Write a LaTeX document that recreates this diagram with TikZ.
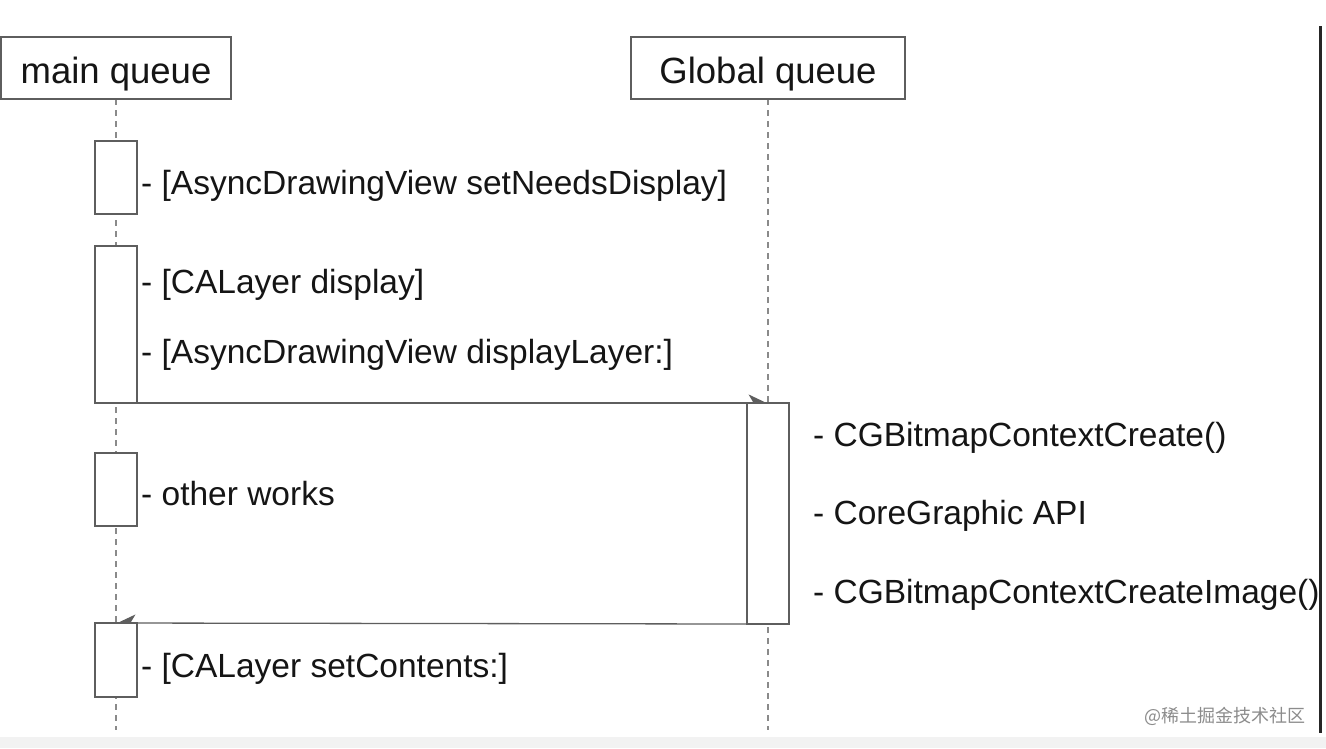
\documentclass[tikz,border=0pt]{standalone}
\usepackage{fontspec}
\setmainfont{Liberation Sans}
\newfontfamily\cjk{Noto Sans CJK SC}
\usetikzlibrary{arrows.meta}
\definecolor{boxgray}{HTML}{5E5E5E}
\definecolor{linegray}{HTML}{8A8A8A}
\definecolor{txt}{HTML}{151515}
\definecolor{strip}{HTML}{F2F2F2}
\begin{document}
\begin{tikzpicture}[x=1pt,y=-1pt,
  header/.style={draw=boxgray,line width=1.6pt,fill=white,inner sep=0pt,
    font=\fontsize{36.5}{40}\selectfont,text=txt,text height=36pt,text depth=6pt},
  actbox/.style={draw=boxgray,line width=1.6pt,fill=white},
  lifeline/.style={draw=linegray,line width=1.8pt,dash pattern=on 6pt off 5pt},
  lbl/.style={anchor=base west,inner sep=0pt,text=txt,font=\fontsize{33.5}{38}\selectfont},
  msg/.style={draw=boxgray,line width=1.3pt}
]
\useasboundingbox (0,0) rectangle (1326,748);
\fill[white] (0,0) rectangle (1326,748);
\fill[strip] (0,737) rectangle (1326,748);
\fill[black!85] (1318.5,26) rectangle (1321.5,733);

% lifelines
\coordinate (mtop) at (116,99);
\coordinate (mbot) at (116,730);
\coordinate (gtop) at (768,99);
\coordinate (gbot) at (768,730);
\draw[lifeline] (mtop) -- (mbot);
\draw[lifeline] (gtop) -- (gbot);

% headers
\node[header,minimum width=230pt,minimum height=62pt] (main) at (116,68) {main queue};
\node[header,minimum width=274pt,minimum height=62pt] (global) at (768,68) {Global queue};

% activation boxes on main queue
\draw[actbox] (95,141) rectangle (137,214);
\draw[actbox] (95,246) rectangle (137,403);
\draw[actbox] (95,453) rectangle (137,526);
\draw[actbox] (95,623) rectangle (137,697);
% activation box on global queue
\draw[actbox] (747,403) rectangle (789,624);

% messages
\coordinate (m1s) at (137,403);
\coordinate (m1e) at (768,403);
\draw[msg,-{Stealth[left,length=18pt,width=17pt,inset=5pt]}] (m1s) -- (m1e);
\coordinate (m2s) at (747,624);
\coordinate (m2e) at (116,623);
\draw[msg,-{Stealth[right,length=18pt,width=17pt,inset=5pt]}] (m2s) -- (m2e);

% labels main
\node[lbl] (t1) at (141,194) {- [AsyncDrawingView setNeedsDisplay]};
\node[lbl] (t2) at (141,293) {- [CALayer display]};
\node[lbl] (t3) at (141,363) {- [AsyncDrawingView displayLayer:]};
\node[lbl] (t4) at (141,505) {- other works};
\node[lbl] (t5) at (141,677) {- [CALayer setContents:]};
% labels global
\node[lbl] (g1) at (813,446) {- CGBitmapContextCreate()};
\node[lbl] (g2) at (813,524) {- CoreGraphic API};
\node[lbl] (g3) at (813,603) {- CGBitmapContextCreateImage()};

% watermark
\node[anchor=east,inner sep=0pt,text=black!45,font=\cjk\fontsize{18}{20}\selectfont] (wm) at (1306,716) {@稀土掘金技术社区};
\end{tikzpicture}
\end{document}
